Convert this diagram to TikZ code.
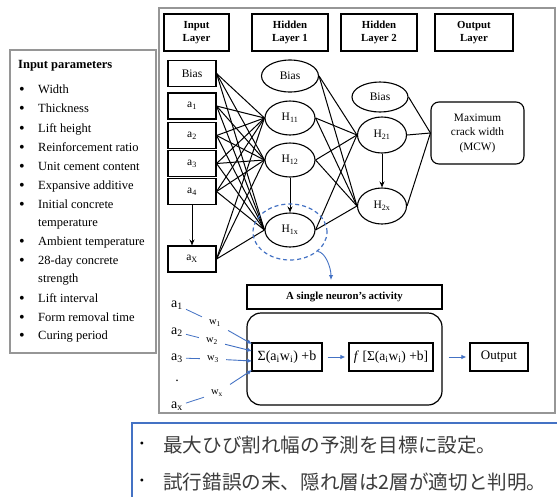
\documentclass[tikz,border=0pt]{standalone}
\usepackage{fontspec}
\setmainfont{Liberation Serif}
\newfontfamily\jpfont{Noto Sans CJK JP}
\usetikzlibrary{arrows.meta,shapes.geometric}
\definecolor{ublue}{RGB}{68,114,196}
\definecolor{framegray}{RGB}{150,150,150}
\definecolor{jptext}{RGB}{60,60,60}
\begin{document}
\begin{tikzpicture}[x=1pt,y=-1pt,
  hdr/.style={draw,line width=1.3pt,minimum height=37pt,inner sep=0pt,align=center,
    font=\bfseries\fontsize{10.8}{13.5}\selectfont},
  inbox/.style={draw,line width=1.1pt,minimum width=48pt,minimum height=26pt,inner sep=0pt,
    font=\fontsize{11.5}{13}\selectfont},
  neu/.style={draw,ellipse,line width=1.1pt,minimum width=50pt,minimum height=34pt,inner sep=0pt,
    font=\fontsize{11.5}{13}\selectfont},
  outbox/.style={draw,rounded corners=8pt,line width=1.1pt,minimum width=93pt,minimum height=62pt,
    inner sep=0pt,align=center,font=\fontsize{11.3}{14.5}\selectfont},
  conn/.style={line width=1pt},
  arr/.style={line width=1pt,-{Stealth[length=6pt,width=5pt]}},
  fbox/.style={draw,line width=1.2pt,minimum height=28pt,inner sep=0pt,font=\fontsize{14}{16}\selectfont},
  barr/.style={ublue,line width=0.9pt,-{Latex[length=5pt,width=4.5pt]}},
  bline/.style={ublue,line width=0.8pt},
  alab/.style={inner sep=3pt,font=\fontsize{14}{16}\selectfont},
  wlab/.style={inner sep=7pt,font=\fontsize{10.5}{12}\selectfont},
  plab/.style={anchor=base west,inner sep=0pt,font=\fontsize{12.5}{15}\selectfont},
  bul/.style={anchor=base,inner sep=0pt,font=\fontsize{16}{15}\selectfont}]
\useasboundingbox (0,0) rectangle (557,496);
\clip (0,0) rectangle (557,496);
\fill[white] (0,0) rectangle (557,496);

% ---------- left parameter box ----------
\draw[framegray,line width=1.2pt] (10,50) rectangle (156,353);
\node[plab,font=\bfseries\fontsize{12.5}{15}\selectfont] (ptitle) at (18,68) {Input parameters};
\foreach \yy/\txt/\b in {89/Width/1,108/Thickness/1,128/Lift height/1,147/Reinforcement ratio/1,
  166/Unit cement content/1,185/Expansive additive/1,204/Initial concrete/1,222/temperature/0,
  241/Ambient temperature/1,260/28-day concrete/1,278/strength/0,298/Lift interval/1,
  317/Form removal time/1,335/Curing period/1}{
  \node[plab] (p\yy) at (38,\yy+4) {\txt};
  \ifnum\b=1 \node[bul] (q\yy) at (22,\yy+5) {\textbullet};\fi
}

% ---------- main frame ----------
\draw[framegray,line width=1.3pt] (159,8) rectangle (555,413);

\node[hdr,minimum width=65pt] (hin) at (196.5,32.5) {Input\\Layer};
\node[hdr,minimum width=76pt] (hh1) at (290,32.5) {Hidden\\Layer 1};
\node[hdr,minimum width=76pt] (hh2) at (379,32.5) {Hidden\\Layer 2};
\node[hdr,minimum width=78pt] (hout) at (474,32.5) {Output\\Layer};

\node[inbox] (ib) at (192,73.5) {Bias};
\node[inbox] (i1) at (192,106) {a\textsubscript{1}};
\node[inbox] (i2) at (192,135.5) {a\textsubscript{2}};
\node[inbox] (i3) at (192,163.5) {a\textsubscript{3}};
\node[inbox] (i4) at (192,191.5) {a\textsubscript{4}};
\node[inbox] (ix) at (192,259) {a\textsubscript{X}};

\node[neu,minimum width=57pt,minimum height=32pt] (b1) at (290,76) {Bias};
\node[neu] (h11) at (290,118) {H\textsubscript{11}};
\node[neu] (h12) at (290,160) {H\textsubscript{12}};
\node[neu] (h1x) at (290,230) {H\textsubscript{1x}};

\node[neu,minimum width=56pt,minimum height=30pt] (b2) at (380,97) {Bias};
\node[neu,minimum width=49pt,minimum height=36pt] (h21) at (382,135) {H\textsubscript{21}};
\node[neu,minimum width=49pt,minimum height=36pt] (h2x) at (382,206) {H\textsubscript{2x}};

\node[outbox] (mcw) at (477.5,133) {Maximum\\crack width\\(MCW)};

\foreach \s in {ib,i1,i2,i3,i4,ix}
  \foreach \t in {h11,h12,h1x}
    \draw[conn] (\s.east) -- (\t.west);
\foreach \s in {b1,h11,h12,h1x}
  \foreach \t in {h21,h2x}
    \draw[conn] (\s.east) -- (\t.west);
\foreach \s in {b2,h21,h2x}
  \draw[conn] (\s.east) -- (mcw.west);

\draw[arr] (i4) -- (ix);
\draw[arr] (h12) -- (h1x);
\draw[arr] (h21) -- (h2x);

\node[draw=ublue,ellipse,line width=1.2pt,dash pattern=on 4pt off 3pt,minimum width=74pt,
  minimum height=56pt,inner sep=0pt] (focus) at (290,232) {};
\coordinate (tgt) at (331,280);
\draw[barr] (focus.-35) .. controls +(8,1) and +(0,-12) .. (tgt);

% ---------- single neuron ----------
\node[draw,line width=1.2pt,minimum width=195pt,minimum height=24pt,inner sep=0pt,
  font=\bfseries\fontsize{10.8}{12}\selectfont] (act) at (344.5,297) {A single neuron’s activity};
\node[draw,rounded corners=14pt,line width=1.2pt,minimum width=195pt,minimum height=92pt] (cell) at (344.5,359) {};
\node[fbox,minimum width=70pt] (sig) at (287,357) {Σ(a\textsubscript{i}w\textsubscript{i}) +b};
\node[fbox,minimum width=84pt,font=\fontsize{13.5}{15}\selectfont] (fun) at (391,357) {\textit{f} [Σ(a\textsubscript{i}w\textsubscript{i}) +b]};
\node[fbox,minimum width=58pt,font=\fontsize{13}{15}\selectfont] (out) at (499,357) {Output};
\draw[barr,shorten <=5pt,shorten >=3pt] (sig) -- (fun);
\draw[barr,shorten <=15pt,shorten >=3pt] (fun) -- (out);

\node[alab] (l1) at (177,305) {a\textsubscript{1}};
\node[alab] (l2) at (177,332) {a\textsubscript{2}};
\node[alab] (l3) at (177,358) {a\textsubscript{3}};
\node[alab] (ldot) at (177,381) {.};
\node[alab] (lx) at (177,406) {a\textsubscript{x}};
\node[wlab] (w1) at (215,323) {w\textsubscript{1}};
\node[wlab] (w2) at (212,341) {w\textsubscript{2}};
\node[wlab] (w3) at (213,359) {w\textsubscript{3}};
\node[wlab] (wx) at (217,393) {w\textsubscript{x}};
\coordinate (t1) at (252,344);
\coordinate (t2) at (252,351);
\coordinate (t3) at (252,361);
\coordinate (t4) at (252,370);
\draw[bline] (l1) -- (w1);
\draw[bline] (l2) -- (w2);
\draw[bline] (l3) -- (w3);
\draw[bline] (lx) -- (wx);
\draw[barr] (w1) -- (t1);
\draw[barr] (w2) -- (t2);
\draw[barr] (w3) -- (t3);
\draw[barr] (wx) -- (t4);

% ---------- Japanese note ----------
\draw[ublue,line width=2pt] (132,423) rectangle (620,620);
\node[inner sep=0pt,font=\fontsize{12}{14}\selectfont] (j1b) at (142,445) {\textbullet};
\node[inner sep=0pt,font=\fontsize{12}{14}\selectfont] (j2b) at (142,482) {\textbullet};
\node[anchor=west,inner sep=0pt,text=jptext,font=\jpfont\fontsize{19.6}{21}\selectfont] (j1) at (163,445) {最大ひび割れ幅の予測を目標に設定。};
\node[anchor=west,inner sep=0pt,text=jptext,font=\jpfont\fontsize{19.6}{21}\selectfont] (j2) at (163,482) {試行錯誤の末、隠れ層は2層が適切と判明。};
\end{tikzpicture}
\end{document}
